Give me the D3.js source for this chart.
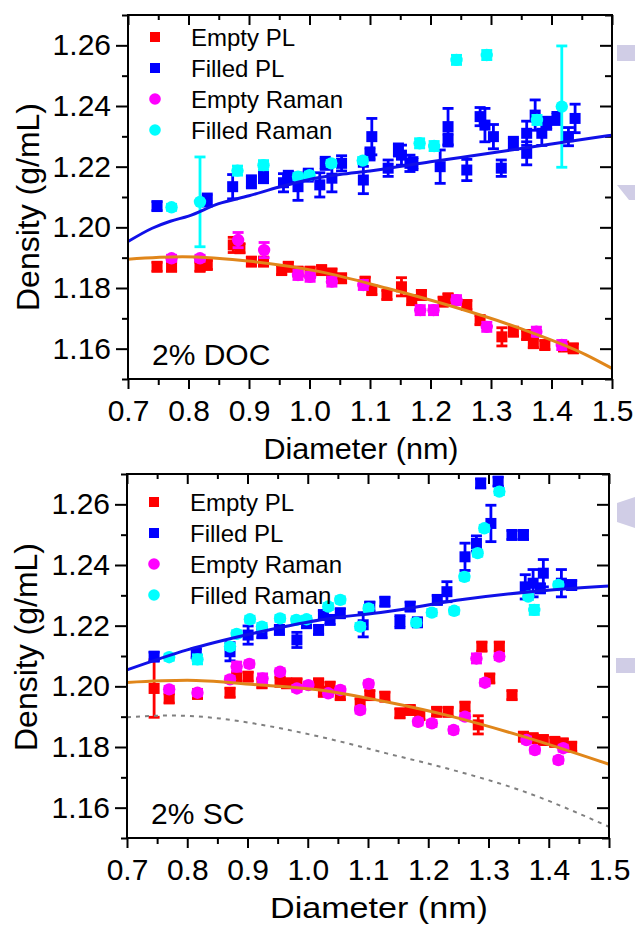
<!DOCTYPE html>
<html>
<head>
<meta charset="utf-8">
<script src="https://cdn.jsdelivr.net/npm/d3@7"></script>
<style>
  body { margin: 0; background: #fff; }
  svg { display: block; font-family: "Liberation Sans", Arial, sans-serif; }
</style>
</head>
<body>
<svg id="chart" width="635" height="926"></svg>
<script>
// axis ticks
var xTicks = [0.7, 0.8, 0.9, 1.0, 1.1, 1.2, 1.3, 1.4, 1.5];
var xMinor = [0.75, 0.85, 0.95, 1.05, 1.15, 1.25, 1.35, 1.45];
var yTicks = [1.16, 1.18, 1.20, 1.22, 1.24, 1.26];
var yMinor = [1.15, 1.17, 1.19, 1.21, 1.23, 1.25, 1.27];
var legendNames = ["Empty PL", "Filled PL", "Empty Raman", "Filled Raman"];
var seriesColors = ["#ff0000", "#0000ff", "#ff00ff", "#00ffff"];
var seriesShapes = ["square", "square", "circle", "circle"];

// 2% DOC  [diameter nm, density g/mL, error]
var docEmptyPL = [
  [0.748,1.1870,0.0015],[0.772,1.1870,0.0015],[0.819,1.1870,0.0015],[0.831,1.1876,0.0015],
  [0.874,1.1942,0.0025],[0.885,1.1931,0.0015],[0.904,1.1887,0.0015],[0.924,1.1887,0.0015],
  [0.954,1.1859,0.0015],[0.965,1.1870,0.0015],[0.981,1.1854,0.0015],[1.001,1.1854,0.0015],
  [1.020,1.1859,0.0015],[1.037,1.1848,0.0015],[1.053,1.1832,0.0015],[1.092,1.1821,0.0015],
  [1.103,1.1793,0.0015],[1.128,1.1777,0.0015],[1.152,1.1804,0.003],[1.169,1.1760,0.0015],
  [1.185,1.1777,0.0015],[1.221,1.1755,0.0015],[1.229,1.1766,0.0015],[1.260,1.1744,0.0015],
  [1.282,1.1694,0.0015],[1.318,1.1639,0.003],[1.337,1.1656,0.0015],[1.359,1.1645,0.0015],
  [1.370,1.1618,0.0015],[1.389,1.1612,0.0015],[1.420,1.1607,0.0015],[1.436,1.1601,0.0015]
];
var docFilledPL = [
  [0.748,1.2070,0.0015],[0.831,1.2090,0.002],[0.873,1.2134,0.004],[0.904,1.2150,0.002],
  [0.924,1.2167,0.002],[0.957,1.2147,0.003],[0.965,1.2165,0.002],[0.981,1.2134,0.0045],
  [0.998,1.2172,0.002],[1.017,1.2140,0.004],[1.026,1.2211,0.002],[1.037,1.2162,0.0045],
  [1.053,1.2211,0.0025],[1.089,1.2156,0.0045],[1.100,1.2242,0.002],[1.103,1.2299,0.006],
  [1.130,1.2195,0.0027],[1.147,1.2255,0.002],[1.152,1.2238,0.0033],[1.166,1.2211,0.0027],
  [1.171,1.2210,0.002],[1.216,1.2200,0.0055],[1.229,1.2332,0.006],[1.229,1.2288,0.002],
  [1.260,1.2189,0.0035],[1.282,1.2365,0.003],[1.290,1.2337,0.0055],[1.304,1.2299,0.004],
  [1.317,1.2195,0.0027],[1.337,1.2277,0.002],[1.359,1.2310,0.004],[1.359,1.2244,0.0038],
  [1.373,1.2370,0.005],[1.384,1.2310,0.004],[1.392,1.2343,0.002],[1.409,1.2359,0.002],
  [1.428,1.2299,0.003],[1.439,1.2359,0.0047]
];
var docEmptyRaman = [
  [0.772,1.1898,0.001],[0.819,1.1898,0.001],[0.882,1.1958,0.0025],[0.925,1.1925,0.0025],
  [0.981,1.1843,0.0015],[1.001,1.1837,0.0015],[1.037,1.1821,0.0015],[1.089,1.1810,0.0015],
  [1.183,1.1727,0.0015],[1.205,1.1727,0.0015],[1.243,1.1760,0.0015],[1.293,1.1672,0.0015],
  [1.375,1.1656,0.0015],[1.417,1.1612,0.0015]
];
var docFilledRaman = [
  [0.772,1.2066,0.001],[0.819,1.2084,0.0148],[0.881,1.2187,0.0015],[0.924,1.2205,0.0015],
  [0.981,1.2167,0.001],[1.000,1.2172,0.001],[1.036,1.2211,0.001],[1.088,1.2220,0.001],
  [1.182,1.2277,0.0015],[1.206,1.2268,0.0015],[1.243,1.2552,0.0015],[1.293,1.2568,0.0015],
  [1.376,1.2354,0.0015],[1.417,1.2398,0.020]
];
var docFilledFit = [
  [0.70,1.1953],[0.74,1.1997],[0.77,1.2020],[0.80,1.2037],[0.85,1.2078],[0.90,1.2104],
  [0.95,1.2133],[1.00,1.2158],[1.05,1.2174],[1.10,1.2186],[1.20,1.2216],[1.30,1.2245],
  [1.40,1.2275],[1.50,1.2304]
];
var docEmptyFit = [
  [0.70,1.1895],[0.79,1.1903],[0.907,1.1887],[1.017,1.1854],[1.128,1.1799],
  [1.238,1.1738],[1.348,1.1667],[1.458,1.1579],[1.50,1.1535]
];

// 2% SC
var scEmptyPL = [
  [0.745,1.1993,0.0095],[0.770,1.1960,0.0015],[0.817,1.1975,0.0015],[0.871,1.1979,0.0015],
  [0.882,1.2032,0.0015],[0.901,1.2032,0.0015],[0.924,1.2010,0.0015],[0.954,1.2015,0.0015],
  [0.965,1.2010,0.0015],[0.982,1.2010,0.0015],[1.018,1.2010,0.0015],[1.026,1.1982,0.0015],
  [1.037,1.1999,0.0015],[1.054,1.1971,0.0015],[1.087,1.1944,0.0015],[1.103,1.1971,0.0015],
  [1.128,1.1966,0.0015],[1.153,1.1911,0.0015],[1.170,1.1922,0.0015],[1.186,1.1905,0.0015],
  [1.214,1.1916,0.0015],[1.233,1.1916,0.0015],[1.261,1.1933,0.0015],[1.283,1.1873,0.003],
  [1.289,1.2131,0.0015],[1.302,1.2026,0.0015],[1.318,1.2131,0.0015],[1.339,1.1971,0.0015],
  [1.358,1.1834,0.0015],[1.374,1.1829,0.0015],[1.391,1.1823,0.0015],[1.410,1.1817,0.0015],
  [1.424,1.1812,0.0015],[1.438,1.1801,0.0015]
];
var scFilledPL = [
  [0.745,1.2098,0.0015],[0.815,1.2109,0.0015],[0.871,1.2114,0.003],[0.901,1.2169,0.003],
  [0.924,1.2175,0.0015],[0.953,1.2186,0.0015],[0.982,1.2153,0.0025],[0.998,1.2208,0.0015],
  [1.018,1.2186,0.0015],[1.026,1.2235,0.0015],[1.037,1.2219,0.0015],[1.054,1.2241,0.0015],
  [1.092,1.2203,0.004],[1.103,1.2263,0.0015],[1.128,1.2279,0.0015],[1.153,1.2213,0.002],
  [1.170,1.2263,0.0015],[1.182,1.2211,0.0015],[1.215,1.2285,0.0015],[1.231,1.2312,0.0033],
  [1.261,1.2427,0.0045],[1.280,1.2471,0.0025],[1.287,1.2669,0.0015],[1.304,1.2537,0.006],
  [1.316,1.2675,0.0015],[1.339,1.2499,0.0015],[1.358,1.2499,0.0015],[1.361,1.2328,0.004],
  [1.374,1.2340,0.0045],[1.386,1.2323,0.0015],[1.391,1.2373,0.0045],[1.421,1.2340,0.0045],
  [1.438,1.2334,0.0015]
];
var scEmptyRaman = [
  [0.770,1.1990,0.001],[0.817,1.1979,0.001],[0.871,1.2023,0.001],[0.882,1.2065,0.0015],
  [0.903,1.2074,0.001],[0.925,1.2026,0.0015],[0.954,1.2048,0.001],[0.982,1.1993,0.001],
  [1.001,1.2004,0.001],[1.034,1.1977,0.001],[1.054,1.1988,0.001],[1.087,1.1922,0.001],
  [1.101,1.2008,0.001],[1.183,1.1883,0.001],[1.206,1.1878,0.001],[1.242,1.1856,0.001],
  [1.261,1.1900,0.001],[1.280,1.2092,0.0015],[1.294,1.2012,0.001],[1.318,1.2098,0.001],
  [1.363,1.1823,0.001],[1.377,1.1790,0.001],[1.416,1.1757,0.001],[1.424,1.1796,0.001]
];
var scFilledRaman = [
  [0.770,1.2096,0.001],[0.817,1.2089,0.0015],[0.871,1.2131,0.001],[0.882,1.2173,0.001],
  [0.904,1.2221,0.001],[0.924,1.2197,0.001],[0.954,1.2224,0.001],[0.981,1.2219,0.001],
  [0.998,1.2221,0.001],[1.034,1.2263,0.001],[1.054,1.2285,0.001],[1.087,1.2197,0.001],
  [1.101,1.2257,0.001],[1.180,1.2210,0.001],[1.206,1.2243,0.001],[1.243,1.2249,0.001],
  [1.260,1.2361,0.001],[1.282,1.2439,0.001],[1.293,1.2521,0.001],[1.318,1.2642,0.001],
  [1.366,1.2296,0.001],[1.376,1.2252,0.0015],[1.416,1.2334,0.001]
];
var scFilledFit = [
  [0.70,1.2054],[0.80,1.2120],[0.91,1.2175],[1.02,1.2219],[1.13,1.2246],
  [1.26,1.2287],[1.37,1.2312],[1.50,1.2331]
];
var scEmptyFit = [
  [0.70,1.2013],[0.80,1.2020],[0.91,1.2006],[1.02,1.1988],[1.13,1.1949],
  [1.24,1.1900],[1.35,1.1839],[1.50,1.1743]
];
var scDocReference = [
  [0.70,1.1898],[0.77,1.1904],[0.854,1.1894],[0.909,1.1878],[1.02,1.1834],[1.131,1.1779],
  [1.241,1.1724],[1.352,1.1658],[1.50,1.1537]
];

var svg = d3.select("#chart");

function drawPanel(p) {
    var x = d3.scaleLinear().domain([0.7, 1.5]).range([p.left, p.right]);
    var y = d3.scaleLinear().domain([1.15, 1.27]).range([p.bottom, p.top]);
    var g = svg.append("g");

    // axes
    var fmtY = d3.format(".2f"), fmtX = d3.format(".1f");
    function styleAxis(sel) {
        sel.select(".domain").remove();
        sel.selectAll("line").attr("stroke", "#000").attr("stroke-width", 2);
        sel.selectAll("text").attr("fill", "#000").style("font-size", "30px")
           .style("font-family", "'Liberation Sans', Arial, sans-serif");
    }
    g.append("g").attr("transform", "translate(" + p.left + ",0)")
        .call(d3.axisLeft(y).tickValues(yTicks).tickSize(12).tickPadding(5).tickFormat(fmtY))
        .call(styleAxis);
    g.append("g").attr("transform", "translate(" + p.left + ",0)")
        .call(d3.axisLeft(y).tickValues(yMinor).tickSize(6).tickFormat(""))
        .call(styleAxis);
    g.append("g").attr("transform", "translate(" + p.right + ",0)")
        .call(d3.axisRight(y).tickValues(yTicks).tickSize(-12).tickFormat(""))
        .call(styleAxis);
    g.append("g").attr("transform", "translate(" + p.right + ",0)")
        .call(d3.axisRight(y).tickValues(yMinor).tickSize(-7).tickFormat(""))
        .call(styleAxis);
    g.append("g").attr("transform", "translate(0," + p.bottom + ")")
        .call(d3.axisBottom(x).tickValues(xTicks).tickSize(10).tickPadding(11).tickFormat(fmtX))
        .call(styleAxis);
    g.append("g").attr("transform", "translate(0," + p.bottom + ")")
        .call(d3.axisBottom(x).tickValues(xMinor).tickSize(6).tickFormat(""))
        .call(styleAxis);
    g.append("g").attr("transform", "translate(0," + p.top + ")")
        .call(d3.axisTop(x).tickValues(xTicks).tickSize(-10).tickFormat(""))
        .call(styleAxis);
    g.append("g").attr("transform", "translate(0," + p.top + ")")
        .call(d3.axisTop(x).tickValues(xMinor).tickSize(-5).tickFormat(""))
        .call(styleAxis);

    // data
    var plot = g.append("g");
    p.series.forEach(function(data, i) {
        var col = seriesColors[i];
        var s = plot.append("g");
        s.selectAll(".eb").data(data).enter().append("line")
            .attr("x1", function(d) { return x(d[0]); })
            .attr("x2", function(d) { return x(d[0]); })
            .attr("y1", function(d) { return y(d[1] - d[2]); })
            .attr("y2", function(d) { return y(d[1] + d[2]); })
            .attr("stroke", col).attr("stroke-width", 2.8);
        [-1, 1].forEach(function(sg) {
            s.selectAll(".cap").data(data).enter().append("line")
                .attr("x1", function(d) { return x(d[0]) - 5.5; })
                .attr("x2", function(d) { return x(d[0]) + 5.5; })
                .attr("y1", function(d) { return y(d[1] + sg * d[2]); })
                .attr("y2", function(d) { return y(d[1] + sg * d[2]); })
                .attr("stroke", col).attr("stroke-width", 2.8);
        });
        if (seriesShapes[i] == "square") {
            s.selectAll("rect").data(data).enter().append("rect")
                .attr("x", function(d) { return x(d[0]) - 5.5; })
                .attr("y", function(d) { return y(d[1]) - 5.5; })
                .attr("width", 11).attr("height", 11)
                .attr("fill", col);
        } else {
            s.selectAll("circle").data(data).enter().append("circle")
                .attr("cx", function(d) { return x(d[0]); })
                .attr("cy", function(d) { return y(d[1]); })
                .attr("r", 6.2)
                .attr("fill", col);
        }
    });

    var line = d3.line().curve(d3.curveMonotoneX)
        .x(function(d) { return x(d[0]); })
        .y(function(d) { return y(d[1]); });
    p.fits.forEach(function(f) {
        plot.append("path").attr("d", line(f.data))
            .attr("fill", "none").attr("stroke", f.color)
            .attr("stroke-width", f.width)
            .attr("stroke-dasharray", f.dash || null);
    });

    // frame
    g.append("rect").attr("x", p.left).attr("y", p.top)
        .attr("width", p.right - p.left).attr("height", p.bottom - p.top)
        .attr("fill", "none").attr("stroke", "#000").attr("stroke-width", 2);

    // legend
    var lg = g.append("g");
    legendNames.forEach(function(name, i) {
        var cy = p.legendTop + i * 31;
        if (seriesShapes[i] == "square") {
            lg.append("rect").attr("x", p.legendX - 5).attr("y", cy - 5)
                .attr("width", 10).attr("height", 10).attr("fill", seriesColors[i]);
        } else {
            lg.append("circle").attr("cx", p.legendX).attr("cy", cy).attr("r", 5.8)
                .attr("fill", seriesColors[i]);
        }
        lg.append("text").attr("x", p.legendX + 36).attr("y", cy + 8.5)
            .style("font-size", "24px").attr("fill", "#000").text(name);
    });

    g.append("text").attr("x", p.left + 24).attr("y", p.bottom - 14)
        .style("font-size", "30px").attr("fill", "#000").text(p.label);

    g.append("text").attr("x", p.titleX).attr("y", p.bottom + 80)
        .attr("text-anchor", "middle").style("font-size", "30px")
        .attr("textLength", p.titleW).attr("lengthAdjust", "spacingAndGlyphs")
        .attr("fill", "#000").text("Diameter (nm)");

    g.append("text")
        .attr("transform", "translate(" + p.yTitleX + "," + p.yTitleY + ") rotate(-90)")
        .attr("text-anchor", "middle").style("font-size", "32px")
        .attr("fill", "#000").text("Density (g/mL)");
}

drawPanel({
    left: 128, right: 612, top: 15, bottom: 379,
    series: [docEmptyPL, docFilledPL, docEmptyRaman, docFilledRaman],
    fits: [
        { data: docFilledFit, color: "#1010e8", width: 3 },
        { data: docEmptyFit, color: "#e0861a", width: 3 }
    ],
    legendX: 155, legendTop: 37,
    label: "2% DOC",
    titleX: 361, titleW: 195,
    yTitleX: 39, yTitleY: 207
});

drawPanel({
    left: 127, right: 609, top: 474, bottom: 838,
    series: [scEmptyPL, scFilledPL, scEmptyRaman, scFilledRaman],
    fits: [
        { data: scDocReference, color: "#808080", width: 2, dash: "4,5" },
        { data: scFilledFit, color: "#1010e8", width: 3 },
        { data: scEmptyFit, color: "#e0861a", width: 3 }
    ],
    legendX: 154, legendTop: 502,
    label: "2% SC",
    titleX: 379, titleW: 218,
    yTitleX: 37, yTitleY: 647
});

// cut-off lavender shapes at the right edge
var deco = svg.append("g").attr("fill", "#d0cde6");
deco.append("rect").attr("x", 617).attr("y", 45).attr("width", 18).attr("height", 16);
deco.append("polygon").attr("points", "617,185 635,185 635,200 629,200");
deco.append("polygon").attr("points", "617,503 635,497 635,528 617,522");
deco.append("rect").attr("x", 616).attr("y", 658).attr("width", 19).attr("height", 15);
</script>
</body>
</html>
